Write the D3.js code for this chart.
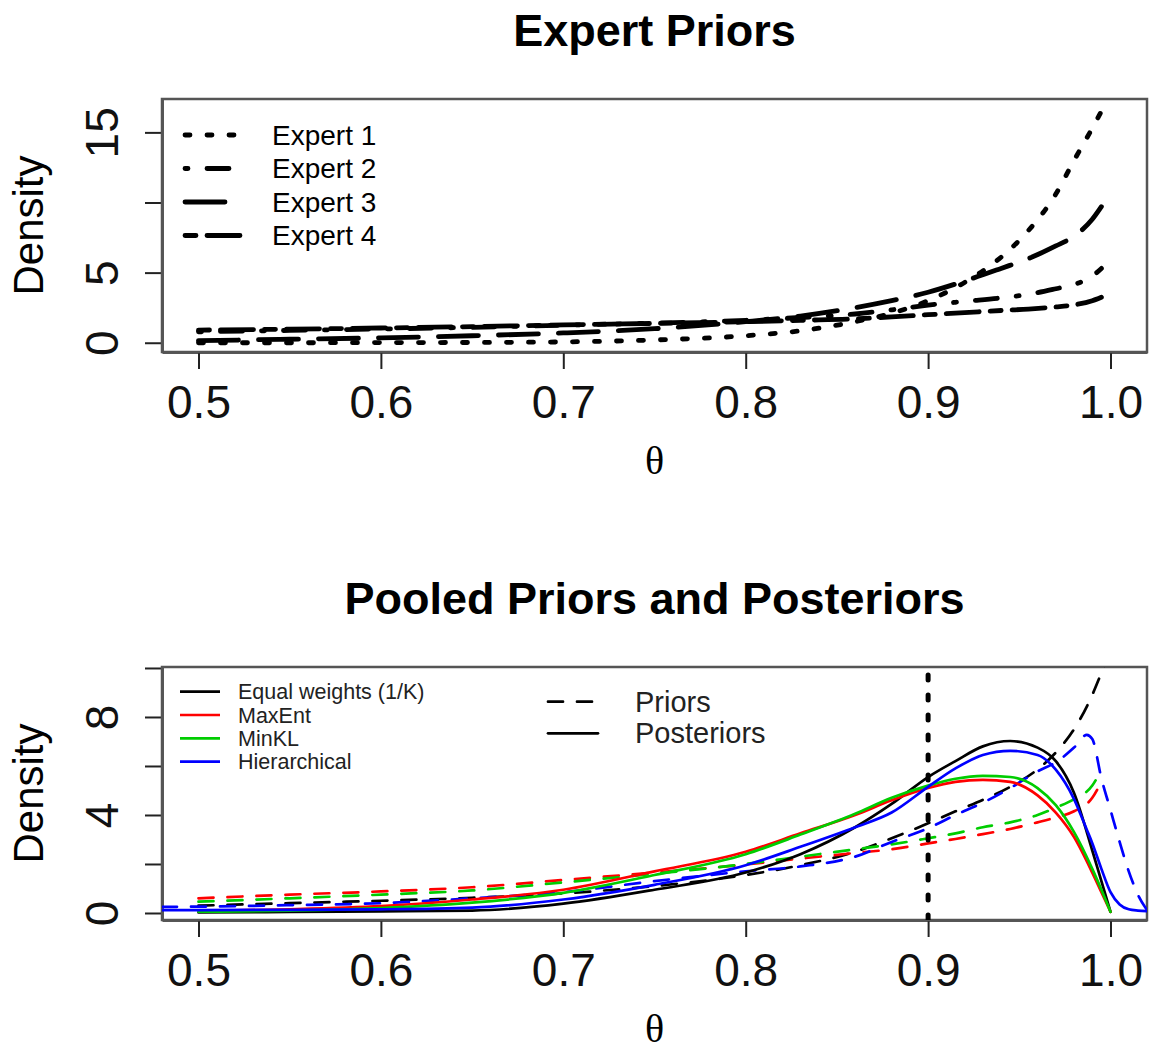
<!DOCTYPE html>
<html>
<head>
<meta charset="utf-8">
<script src="https://cdn.jsdelivr.net/npm/d3@7"></script>
<style>
  body { margin: 0; background: #fff; }
  svg { display: block; font-family: "Liberation Sans", Arial, sans-serif; }
</style>
</head>
<body>
<script>
// ---- top panel: expert priors ----
var expertTheta = [0.5, 0.55, 0.6, 0.65, 0.7, 0.75, 0.8, 0.83, 0.86, 0.88, 0.9, 0.92, 0.94, 0.955, 0.97, 0.98, 0.99, 0.995];
var expert1 = [0.0, 0.0, 0.01, 0.02, 0.06, 0.2, 0.5, 0.85, 1.5, 2.1, 3.0, 4.3, 6.1, 8.0, 10.6, 13.0, 15.3, 16.5];
var expert2 = [0.78, 0.88, 0.98, 1.1, 1.25, 1.4, 1.6, 1.8, 2.05, 2.35, 2.68, 2.95, 3.2, 3.45, 3.85, 4.15, 4.75, 5.3];
var expert3 = [0.15, 0.25, 0.35, 0.5, 0.7, 1.0, 1.5, 1.9, 2.5, 3.0, 3.6, 4.4, 5.3, 6.0, 6.9, 7.6, 8.8, 9.7];
var expert4 = [0.9, 0.97, 1.05, 1.15, 1.27, 1.38, 1.5, 1.6, 1.7, 1.85, 2.0, 2.15, 2.3, 2.4, 2.55, 2.7, 3.0, 3.25];
var expertNames = ["Expert 1", "Expert 2", "Expert 3", "Expert 4"];
// R lty 3 (dotted), 4 (dotdash), 5 (longdash), 6 (twodash)
var expertDash = ["5,17", "3,19,22,19", "40,20", "11,11,33,11"];

// ---- bottom panel: pooled priors and posteriors ----
var poolTheta = [0.5, 0.55, 0.6, 0.65, 0.7, 0.75, 0.8, 0.83, 0.86, 0.88, 0.9, 0.915, 0.93, 0.945, 0.96, 0.97, 0.98, 0.99, 0.995, 1.0];
var postEqual = [0.02, 0.04, 0.07, 0.1, 0.38, 0.95, 1.65, 2.4, 3.5, 4.45, 5.55, 6.2, 6.8, 7.02, 6.75, 6.2, 4.9, 2.55, 1.3, 0.05];
var postMaxEnt = [0.08, 0.15, 0.28, 0.55, 0.95, 1.7, 2.5, 3.25, 4.0, 4.6, 5.1, 5.35, 5.43, 5.35, 4.8, 4.1, 3.1, 1.65, 0.85, 0.05];
var postMinKL = [0.05, 0.1, 0.2, 0.42, 0.82, 1.55, 2.4, 3.2, 4.05, 4.7, 5.2, 5.48, 5.6, 5.55, 5.1, 4.4, 3.3, 1.8, 0.95, 0.05];
var priorEqual = [0.3, 0.4, 0.5, 0.62, 0.8, 1.1, 1.55, 1.95, 2.5, 3.05, 3.66, 4.15, 4.62, 5.15, 5.86, 6.55, 7.5, 8.9, 9.8, 10.7];
var priorMaxEnt = [0.6, 0.75, 0.88, 1.05, 1.35, 1.65, 1.98, 2.22, 2.45, 2.6, 2.84, 3.02, 3.22, 3.43, 3.7, 3.9, 4.15, 4.7, 5.35, null];
var priorMinKL = [0.46, 0.6, 0.75, 0.92, 1.25, 1.6, 2.0, 2.3, 2.6, 2.8, 3.05, 3.25, 3.5, 3.7, 4.0, 4.3, 4.65, 5.2, 5.85, null];

var hierTheta = [0.48, 0.5, 0.55, 0.6, 0.65, 0.7, 0.75, 0.8, 0.83, 0.86, 0.88, 0.9, 0.915, 0.93, 0.945, 0.96, 0.97, 0.98, 0.987, 0.99, 0.995, 1.0, 1.005, 1.01, 1.015, 1.02];
var postHier = [0.12, 0.12, 0.13, 0.15, 0.22, 0.55, 1.15, 1.95, 2.7, 3.5, 4.1, 5.15, 5.9, 6.45, 6.62, 6.45, 5.85, 4.65, 3.4, 2.85, 1.8, 0.85, 0.35, 0.15, 0.1, 0.08];
var priorHier = [0.25, 0.26, 0.32, 0.4, 0.6, 0.85, 1.3, 1.7, 1.9, 2.3, 2.9, 3.46, 4.0, 4.5, 5.1, 5.78, 6.15, 6.75, 7.27, 7.1, 5.5, 4.2, 2.9, 1.7, 0.75, 0.12];

var methodNames = ["Equal weights (1/K)", "MaxEnt", "MinKL", "Hierarchical"];
var methodColors = ["#000000", "#ff0000", "#00cd00", "#0000ff"];
var xTicks = [0.5, 0.6, 0.7, 0.8, 0.9, 1.0];
var topYTicks = [0, 5, 10, 15], topYLabels = [0, 5, 15];
var botYTicks = [0, 2, 4, 6, 8, 10], botYLabels = [0, 4, 8];
var truth = 0.9;

var W = 1149, H = 1052;
var svg = d3.select("body").append("svg").attr("width", W).attr("height", H);

function panel(id, top, bottom, yDomain, yTicks, yLabels, title) {
  var x = d3.scaleLinear().domain([0.48, 1.02]).range([162, 1147]);
  var y = d3.scaleLinear().domain(yDomain).range([bottom, top]);
  var g = svg.append("g");

  svg.append("clipPath").attr("id", id)
    .append("rect").attr("x", 162).attr("y", top).attr("width", 985).attr("height", bottom - top);

  // x axis
  var xa = g.append("g").attr("transform", "translate(0," + bottom + ")")
    .call(d3.axisBottom(x).tickValues(xTicks).tickSize(17).tickSizeOuter(0).tickFormat(d3.format(".1f")));
  xa.select(".domain").attr("stroke", "#222").attr("stroke-width", 2.5);
  xa.selectAll(".tick line").attr("stroke", "#222").attr("stroke-width", 2);
  xa.selectAll(".tick text").attr("font-size", 46).attr("fill", "#111").attr("y", 0).attr("dy", 66);

  // y axis, labels parallel to axis as in base R
  var ya = g.append("g").attr("transform", "translate(162,0)")
    .call(d3.axisLeft(y).tickValues(yTicks).tickSize(17).tickSizeOuter(0)
      .tickFormat(function (d) { return yLabels.indexOf(d) >= 0 ? d : ""; }));
  ya.select(".domain").attr("stroke", "#222").attr("stroke-width", 2.5);
  ya.selectAll(".tick line").attr("stroke", "#222").attr("stroke-width", 2);
  ya.selectAll(".tick text").attr("font-size", 46).attr("fill", "#111")
    .attr("transform", "rotate(-90)").attr("x", 0).attr("y", -44).attr("dy", 0)
    .attr("text-anchor", "middle");

  // box
  g.append("rect").attr("x", 162).attr("y", top).attr("width", 985).attr("height", bottom - top)
    .attr("fill", "none").attr("stroke", "#555").attr("stroke-width", 2.5);

  svg.append("text").attr("x", 654.5).attr("y", top - 53).attr("text-anchor", "middle")
    .attr("font-size", 45).attr("font-weight", "bold").text(title);
  svg.append("text").attr("transform", "translate(43," + (top + bottom) / 2 + ") rotate(-90)")
    .attr("text-anchor", "middle").attr("font-size", 42).text("Density");
  svg.append("text").attr("x", 654.5).attr("y", bottom + 122).attr("text-anchor", "middle")
    .attr("font-family", "'Liberation Serif', 'DejaVu Serif', serif").attr("font-size", 40).text("\u03b8");

  var plot = svg.append("g").attr("clip-path", "url(#" + id + ")");
  return { x: x, y: y, plot: plot };
}

function curve(p, xs, ys, color, width, dash) {
  var pts = xs.map(function (d, i) { return [d, ys[i]]; }).filter(function (d) { return d[1] != null; });
  var line = d3.line().x(function (d) { return p.x(d[0]); }).y(function (d) { return p.y(d[1]); })
    .curve(d3.curveMonotoneX);
  p.plot.append("path").attr("d", line(pts)).attr("fill", "none").attr("stroke", color)
    .attr("stroke-width", width).attr("stroke-dasharray", dash || null)
    .attr("stroke-linecap", "round").attr("stroke-linejoin", "round");
}

// ---- top ----
var p1 = panel("clipTop", 99, 352, [-0.66, 17.38], topYTicks, topYLabels, "Expert Priors");
[expert1, expert2, expert3, expert4].forEach(function (s, i) {
  curve(p1, expertTheta, s, "#000", 4.8, expertDash[i]);
});
expertNames.forEach(function (n, i) {
  var yy = 135 + i * 33.5;
  svg.append("line").attr("x1", 185).attr("x2", 245).attr("y1", yy).attr("y2", yy)
    .attr("stroke", "#000").attr("stroke-width", 4.8).attr("stroke-dasharray", expertDash[i])
    .attr("stroke-linecap", "round");
  svg.append("text").attr("x", 272).attr("y", yy).attr("dy", "0.35em").attr("font-size", 28).text(n);
});

// ---- bottom ----
var p2 = panel("clipBot", 667, 920, [-0.286, 10.04], botYTicks, botYLabels, "Pooled Priors and Posteriors");
var dash2 = "15,14";
curve(p2, poolTheta, priorEqual, methodColors[0], 2.7, dash2);
curve(p2, poolTheta, priorMaxEnt, methodColors[1], 2.7, dash2);
curve(p2, poolTheta, priorMinKL, methodColors[2], 2.7, dash2);
curve(p2, hierTheta, priorHier, methodColors[3], 2.7, dash2);
curve(p2, poolTheta, postEqual, methodColors[0], 2.7);
curve(p2, poolTheta, postMaxEnt, methodColors[1], 2.7);
curve(p2, poolTheta, postMinKL, methodColors[2], 2.7);
curve(p2, hierTheta, postHier, methodColors[3], 2.7);

p2.plot.append("line").attr("x1", p2.x(truth)).attr("x2", p2.x(truth))
  .attr("y1", 920).attr("y2", 667).attr("stroke", "#000").attr("stroke-width", 5)
  .attr("stroke-dasharray", "5,15").attr("stroke-linecap", "round");

methodNames.forEach(function (n, i) {
  var yy = 691.7 + i * 23.3;
  svg.append("line").attr("x1", 180).attr("x2", 220).attr("y1", yy).attr("y2", yy)
    .attr("stroke", methodColors[i]).attr("stroke-width", 2.7);
  svg.append("text").attr("x", 238).attr("y", yy).attr("dy", "0.35em").attr("font-size", 21.5)
    .attr("fill", "#222").text(n);
});
["Priors", "Posteriors"].forEach(function (n, i) {
  var yy = 701.7 + i * 31.6;
  svg.append("line").attr("x1", 548).attr("x2", 598).attr("y1", yy).attr("y2", yy)
    .attr("stroke", "#000").attr("stroke-width", 2.7).attr("stroke-dasharray", i === 0 ? dash2 : null)
    .attr("stroke-linecap", "round");
  svg.append("text").attr("x", 635).attr("y", yy).attr("dy", "0.35em").attr("font-size", 29)
    .attr("fill", "#222").text(n);
});
</script>
</body>
</html>
